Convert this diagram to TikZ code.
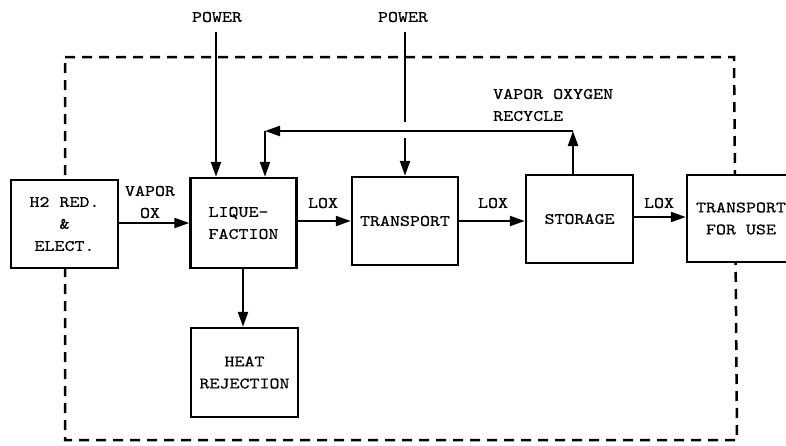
\documentclass[tikz,border=0pt]{standalone}
\usepackage{fontspec}
\setmonofont{lmmono10-regular.otf}[FakeStretch=1.19, FakeBold=0.6]
\usetikzlibrary{arrows.meta}
\tikzset{
  blk/.style={draw, line width=2.4pt, fill=white, inner sep=0pt,
    font=\ttfamily\fontsize{16}{22}\selectfont, align=center},
  lbl/.style={inner sep=0pt, font=\ttfamily\fontsize{16}{22}\selectfont, align=center},
  flow/.style={line width=2.2pt, -{Triangle[length=15pt,width=10pt]}},
  plain/.style={line width=2.2pt},
  bound/.style={line width=2.5pt, dash pattern=on 10pt off 7pt}
}
\begin{document}
\begin{tikzpicture}[x=1pt,y=-1pt]
\useasboundingbox (0,0) rectangle (786,445);
\clip (0,0) rectangle (786,445);
\fill[white] (0,0) rectangle (786,445);
% system boundary
\draw[bound] (65,57) -- (734,57) -- (737,440) -- (65,440) -- cycle;
% blocks
\node[blk, minimum width=107pt, minimum height=88pt] (h2) at (64.5,224) {H2 RED.\\\&\\ELECT.};
\node[blk, minimum width=106pt, minimum height=90pt, align=left] (liq) at (243.5,223) {LIQUE-\\FACTION};
\node[blk, minimum width=106pt, minimum height=88pt] (tr) at (405,221) {TRANSPORT};
\node[blk, minimum width=107pt, minimum height=88pt] (st) at (579.5,219) {STORAGE};
\node[blk, minimum width=108pt, minimum height=87pt] (tfu) at (741,218.5) {TRANSPORT\\FOR USE};
\node[blk, minimum width=107pt, minimum height=89pt] (heat) at (244.5,372.5) {HEAT\\REJECTION};
% labels
\node[lbl] (vox) at (150,202) {VAPOR\\OX};
\node[lbl] (lox1) at (323,203) {LOX};
\node[lbl] (lox2) at (493,203) {LOX};
\node[lbl] (lox3) at (659,203) {LOX};
\node[lbl] (pw1) at (217,17) {POWER};
\node[lbl] (pw2) at (403,17) {POWER};
\node[lbl, align=left, anchor=west] (rec) at (493,105) {VAPOR OXYGEN\\RECYCLE};
% coordinates
\coordinate (p1) at (216,32);
\coordinate (p2) at (405,32);
\coordinate (p2a) at (405,122);
\coordinate (p2b) at (405,138);
\coordinate (rs) at (573,131);
\coordinate (rl) at (265,131);
% flows
\draw[flow] (h2.east |- 0,223) -- (liq.west |- 0,223);
\draw[flow] (liq.east |- 0,221) -- (tr.west |- 0,221);
\draw[flow] (tr.east |- 0,221) -- (st.west |- 0,221);
\draw[flow] (st.east |- 0,217) -- (tfu.west |- 0,217);
\draw[flow] (liq.south -| 243,0) -- (heat.north -| 243,0);
\draw[flow] (p1) -- (p1 |- liq.north);
\draw[plain] (p2) -- (p2a);
\draw[flow] (p2b) -- (p2b |- tr.north);
\draw[flow] (st.north -| rs) -- (rs);
\draw[flow] (rs) -- (rl);
\draw[flow] (rl) -- (rl |- liq.north);
\end{tikzpicture}
\end{document}
